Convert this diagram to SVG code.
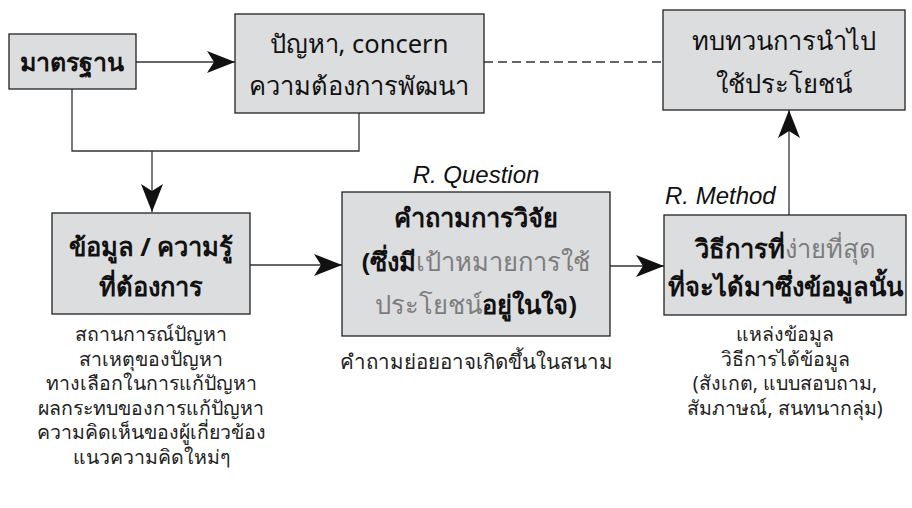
<svg xmlns="http://www.w3.org/2000/svg" width="912" height="508" viewBox="0 0 912 508">
<style>
.box{fill:#dcdddf;stroke:#222;stroke-width:1.3}
.ln{fill:none;stroke:#333;stroke-width:1.3}
.t{font-family:"Noto Sans","DejaVu Sans",sans-serif;fill:#111;text-anchor:middle}
.b{font-size:25.5px;font-weight:bold}
.r{font-size:25.5px}
.g{fill:#7c7c7c;font-weight:normal}
.s{font-size:19.5px;fill:#222}
.i{font-family:"Liberation Sans",Arial,sans-serif;font-style:italic;font-size:24px;fill:#111}
</style>
<defs>
<marker id="ah" markerUnits="userSpaceOnUse" markerWidth="30" markerHeight="24" refX="28" refY="11" orient="auto">
<path d="M0,0 L28,11 L0,22 L7,11 Z" fill="#111"/>
</marker>
</defs>
<rect width="912" height="508" fill="#fff"/>
<g id="connectors">
<line class="ln" x1="136" y1="62" x2="235" y2="62" marker-end="url(#ah)"/>
<line class="ln" x1="484" y1="62" x2="663" y2="62" stroke-dasharray="9,5"/>
<polyline class="ln" points="72,89 72,151 359,151 359,113"/>
<line class="ln" x1="152" y1="151" x2="152" y2="212" marker-end="url(#ah)"/>
<line class="ln" x1="250" y1="265" x2="342" y2="265" marker-end="url(#ah)"/>
<line class="ln" x1="610" y1="266" x2="664" y2="266" marker-end="url(#ah)"/>
<line class="ln" x1="789" y1="215" x2="789" y2="110" marker-end="url(#ah)"/>
</g>
<g id="n-standard">
<rect class="box" x="9" y="34" width="127" height="55"/>
<text class="t b" x="72" y="71" style="font-size:25px">มาตรฐาน</text>
</g>
<g id="n-problem">
<rect class="box" x="235" y="14" width="249" height="99"/>
<text class="t r" x="359" y="53">ปัญหา, concern</text>
<text class="t r" x="359" y="95">ความต้องการพัฒนา</text>
</g>
<g id="n-review">
<rect class="box" x="663" y="10" width="242" height="100"/>
<text class="t r" x="784" y="50">ทบทวนการนำไป</text>
<text class="t r" x="784" y="93">ใช้ประโยชน์</text>
</g>
<g id="n-data">
<rect class="box" x="52" y="213" width="198" height="101"/>
<text class="t b" x="151" y="256">ข้อมูล / ความรู้</text>
<text class="t b" x="151" y="296">ที่ต้องการ</text>
<text class="t s" x="151" y="341">สถานการณ์ปัญหา</text>
<text class="t s" x="151" y="365.5">สาเหตุของปัญหา</text>
<text class="t s" x="151" y="390">ทางเลือกในการแก้ปัญหา</text>
<text class="t s" x="151" y="414.5">ผลกระทบของการแก้ปัญหา</text>
<text class="t s" x="151" y="439">ความคิดเห็นของผู้เกี่ยวข้อง</text>
<text class="t s" x="151" y="463.5">แนวความคิดใหม่ๆ</text>
</g>
<g id="n-question">
<text class="i" x="476" y="183" text-anchor="middle">R. Question</text>
<rect class="box" x="342" y="192" width="268" height="144"/>
<text class="t b" x="476" y="227">คำถามการวิจัย</text>
<text class="t b" x="476" y="271">(ซึ่งมี<tspan class="g">เป้าหมายการใช้</tspan></text>
<text class="t b" x="476" y="314"><tspan class="g">ประโยชน์</tspan>อยู่ในใจ)</text>
<text class="t s" x="476" y="369" style="font-size:20.5px">คำถามย่อยอาจเกิดขึ้นในสนาม</text>
</g>
<g id="n-method">
<text class="i" x="665" y="204">R. Method</text>
<rect class="box" x="664" y="215" width="242" height="100"/>
<text class="t b" x="785" y="258">วิธีการที่<tspan class="g">ง่ายที่สุด</tspan></text>
<text class="t b" x="785" y="296">ที่จะได้มาซึ่งข้อมูลนั้น</text>
<text class="t s" x="785" y="341">แหล่งข้อมูล</text>
<text class="t s" x="785" y="365.5">วิธีการได้ข้อมูล</text>
<text class="t s" x="785" y="390">(สังเกต, แบบสอบถาม,</text>
<text class="t s" x="785" y="414.5">สัมภาษณ์, สนทนากลุ่ม)</text>
</g>
</svg>
